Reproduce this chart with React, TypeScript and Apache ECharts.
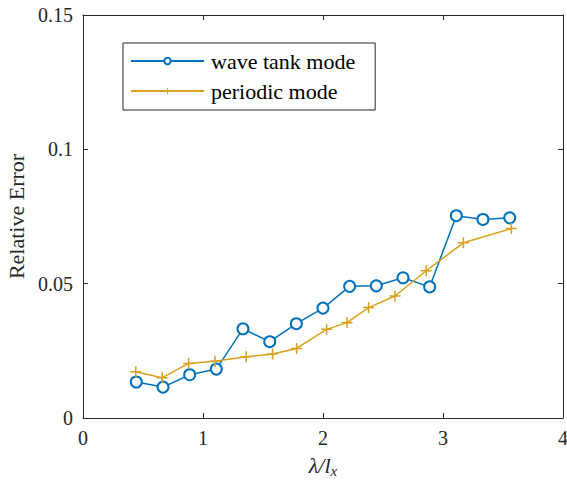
import React, { useEffect, useRef } from "react";
import * as echarts from "echarts";

const waveTankX = [0.444, 0.667, 0.889, 1.111, 1.333, 1.556, 1.778, 2.0, 2.222, 2.444, 2.667, 2.889, 3.111, 3.333, 3.556];
const waveTankY = [0.0134, 0.0115, 0.0161, 0.0182, 0.0332, 0.0284, 0.0351, 0.0409, 0.049, 0.0492, 0.0522, 0.0488, 0.0753, 0.0739, 0.0745];
const periodicX = [0.44, 0.66, 0.88, 1.1, 1.36, 1.58, 1.78, 2.03, 2.2, 2.38, 2.6, 2.86, 3.17, 3.57];
const periodicY = [0.0172, 0.015, 0.0203, 0.0211, 0.0228, 0.0238, 0.0259, 0.033, 0.0355, 0.0411, 0.0454, 0.0548, 0.0652, 0.0705];
const seriesNames = ["wave tank mode", "periodic mode"];

const FONT = "Liberation Serif";
const AX = "#262626";
const BLUE = "#0072BD";
const GOLD = "#D9A01C";
const PLUS = "path://M-0.14,-1 H0.14 V-0.14 H1 V0.14 H0.14 V1 H-0.14 V0.14 H-1 V-0.14 H-0.14 Z";

export default function App() {
  const ref = useRef<HTMLDivElement>(null);
  useEffect(() => {
    if (!ref.current) return;
    const chart = echarts.init(ref.current, undefined, { renderer: "svg" });
    const axisCommon = {
      axisLine: { show: true, onZero: false, lineStyle: { color: AX, width: 1 } },
      axisTick: { show: true, inside: true, length: 5, lineStyle: { color: AX } },
      splitLine: { show: false },
    };
    chart.setOption({
      animation: false,
      backgroundColor: "#ffffff",
      textStyle: { fontFamily: FONT },
      grid: { left: 83, top: 15, width: 480, height: 403, containLabel: false, outerBoundsMode: "none" },
      legend: {
        orient: "vertical",
        left: 123,
        top: 43,
        data: seriesNames,
        itemWidth: 73,
        itemHeight: 8,
        itemGap: 8,
        padding: [7, 20, 8, 7],
        borderColor: AX,
        borderWidth: 1,
        backgroundColor: "#ffffff",
        textStyle: { fontFamily: FONT, fontSize: 22, color: "#000", lineHeight: 22, padding: [0, 0, 0, 2] },
      },
      xAxis: [
        {
          type: "value",
          min: 0,
          max: 4,
          interval: 1,
          position: "bottom",
          ...axisCommon,
          axisLabel: { fontFamily: FONT, fontSize: 20, color: AX, margin: 10 },
          name: "{a|λ/l}{b|x}",
          nameLocation: "middle",
          nameGap: 35,
          nameTextStyle: {
            fontFamily: FONT,
            rich: {
              a: { fontFamily: FONT, fontSize: 22, fontStyle: "italic", color: AX },
              b: { fontFamily: FONT, fontSize: 15, fontStyle: "italic", color: AX, padding: [10, 0, 0, 0] },
            },
          },
        },
        {
          type: "value",
          min: 0,
          max: 4,
          interval: 1,
          position: "top",
          ...axisCommon,
          axisLabel: { show: false },
        },
      ],
      yAxis: [
        {
          type: "value",
          min: 0,
          max: 0.15,
          interval: 0.05,
          position: "left",
          ...axisCommon,
          axisLabel: { fontFamily: FONT, fontSize: 20, color: AX, margin: 10 },
          name: "Relative Error",
          nameLocation: "middle",
          nameGap: 56,
          nameTextStyle: { fontFamily: FONT, fontSize: 22, color: AX },
        },
        {
          type: "value",
          min: 0,
          max: 0.15,
          interval: 0.05,
          position: "right",
          ...axisCommon,
          axisLabel: { show: false },
        },
      ],
      series: [
        {
          name: seriesNames[0],
          type: "line",
          data: waveTankX.map((x, i) => [x, waveTankY[i]]),
          symbol: "emptyCircle",
          symbolSize: 11,
          showAllSymbol: true,
          lineStyle: { color: BLUE, width: 1.5 },
          itemStyle: { color: BLUE, borderColor: BLUE, borderWidth: 1.5 },
        },
        {
          name: seriesNames[1],
          type: "line",
          data: periodicX.map((x, i) => [x, periodicY[i]]),
          symbol: PLUS,
          symbolSize: 11,
          showAllSymbol: true,
          lineStyle: { color: GOLD, width: 1.5 },
          itemStyle: { color: GOLD, borderWidth: 0 },
        },
      ],
    });
    return () => chart.dispose();
  }, []);
  return <div ref={ref} style={{ position: "fixed", left: 0, top: 0, width: 567, height: 480 }} />;
}
